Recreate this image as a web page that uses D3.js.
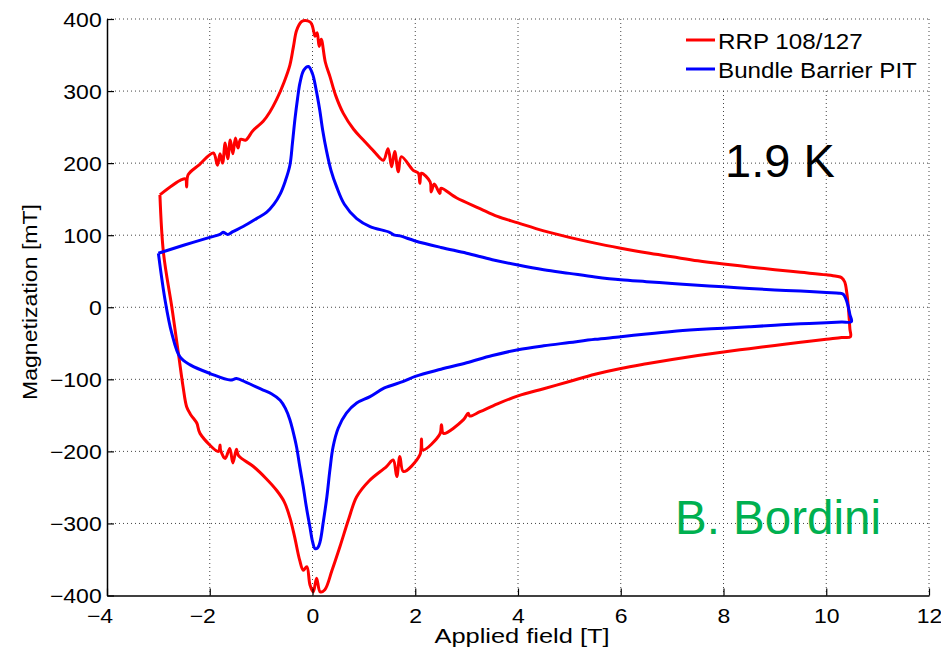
<!DOCTYPE html>
<html lang="en">
<head>
<meta charset="UTF-8">
<title>Magnetization loops 1.9 K</title>
<script src="https://d3js.org/d3.v7.min.js"></script>
<style>
  body { margin: 0; background: #fff; }
  text { font-family: "Liberation Sans", Arial, sans-serif; fill: #000; }
</style>
</head>
<body>
<div id="chart"></div>
<script>
// ticks
const fieldTicks = [-4, -2, 0, 2, 4, 6, 8, 10, 12];
const magTicks = [-400, -300, -200, -100, 0, 100, 200, 300, 400];

// RRP 108/127 loop, [field T, magnetization mT]
const rrpLoop = [
  [-2.97, 156], [-2.55, 177], [-2.47, 178], [-2.45, 167], [-2.42, 184], [-2.2, 198],
  [-1.93, 214], [-1.85, 197], [-1.80, 213], [-1.75, 200], [-1.70, 228], [-1.65, 206],
  [-1.60, 232], [-1.55, 213], [-1.50, 235], [-1.45, 221], [-1.40, 233], [-1.30, 232],
  [-1.16, 245], [-0.96, 258], [-0.83, 271], [-0.70, 288], [-0.55, 313], [-0.44, 336],
  [-0.37, 362], [-0.31, 384], [-0.22, 396], [-0.15, 398], [-0.05, 396], [-0.01, 392],
  [0.02, 384], [0.05, 376], [0.09, 381], [0.13, 362], [0.17, 372], [0.25, 340],
  [0.34, 320], [0.45, 294], [0.6, 269], [0.8, 247], [0.99, 232], [1.2, 216],
  [1.38, 204], [1.47, 220], [1.54, 195], [1.60, 216], [1.67, 188], [1.73, 209],
  [1.96, 190], [2.06, 186], [2.09, 172], [2.12, 186], [2.29, 174], [2.31, 160],
  [2.37, 171], [2.48, 158], [2.50, 165], [2.8, 152], [3.26, 137], [3.6, 126],
  [4.0, 117], [4.5, 106], [5.0, 97], [5.5, 89], [6.0, 82], [6.5, 75.5], [7.0, 70],
  [7.5, 64.5], [8.0, 60], [8.5, 56], [9.0, 52], [9.5, 48.5], [10.0, 45], [10.2, 43],
  [10.3, 41], [10.36, 35], [10.40, 20], [10.43, 0], [10.46, -30], [10.47, -41],
  [10.3, -42], [10.0, -44.5], [9.5, -48.5], [9.0, -53], [8.5, -57.5], [8.0, -62],
  [7.5, -67], [7.0, -72.5], [6.5, -78.5], [6.0, -85], [5.5, -93], [5.0, -103],
  [4.5, -113], [4.0, -123], [3.6, -134], [3.26, -145], [3.06, -151], [3.03, -147],
  [2.94, -156], [2.55, -175], [2.51, -163], [2.48, -176], [2.15, -198], [2.12, -183],
  [2.09, -205], [1.77, -228], [1.70, -207], [1.64, -235], [1.57, -212], [1.44, -221],
  [1.1, -241], [0.86, -263], [0.7, -295], [0.535, -332], [0.38, -365], [0.24, -392],
  [0.15, -395], [0.08, -376], [0.015, -395], [-0.05, -385], [-0.11, -360], [-0.18, -365],
  [-0.25, -351], [-0.35, -318], [-0.44, -292], [-0.55, -270], [-0.70, -254], [-0.90, -238],
  [-1.15, -221], [-1.44, -206], [-1.48, -197], [-1.55, -216], [-1.61, -196], [-1.70, -210],
  [-1.79, -198], [-1.80, -191], [-1.83, -200], [-2.19, -175], [-2.25, -161], [-2.32, -154],
  [-2.38, -148], [-2.45, -138], [-2.52, -110], [-2.61, -64], [-2.74, 1], [-2.90, 75],
  [-2.97, 156]
];

// Bundle Barrier PIT loop
const pitLoop = [
  [-3.0, 75], [-2.51, 86], [-2.0, 97], [-1.80, 101], [-1.74, 104], [-1.65, 101], [-1.55, 105],
  [-1.35, 112], [-1.09, 123], [-0.89, 132], [-0.75, 143], [-0.63, 157], [-0.53, 175],
  [-0.44, 197], [-0.39, 228], [-0.34, 262], [-0.29, 290], [-0.245, 311], [-0.17, 329],
  [-0.08, 334], [0.0, 324], [0.07, 302], [0.14, 274], [0.20, 245], [0.27, 218],
  [0.36, 190], [0.47, 167], [0.62, 143], [0.86, 123], [1.12, 112], [1.5, 104],
  [1.6, 100], [1.7, 99], [2.0, 92], [2.5, 83], [3.0, 75], [3.5, 66], [4.0, 58.5],
  [4.5, 52], [5.0, 47], [5.5, 42], [6.0, 38], [6.5, 35.5], [7.0, 33], [7.5, 30.5],
  [8.0, 28.5], [8.5, 26], [9.0, 24], [9.5, 22.5], [10.0, 20.5], [10.25, 19.5],
  [10.33, 18], [10.38, 12], [10.42, 3], [10.46, -10], [10.49, -20],
  [10.3, -20.5], [10.0, -21.5], [9.5, -23], [9.0, -25], [8.5, -27], [8.0, -29],
  [7.5, -31], [7.0, -33.5], [6.5, -37], [6.0, -41], [5.5, -44.5], [5.0, -49],
  [4.5, -53.5], [4.0, -59], [3.5, -67], [3.0, -77], [2.5, -86], [2.0, -96],
  [1.77, -103], [1.4, -112], [1.12, -124], [0.86, -133], [0.66, -147], [0.50, -168],
  [0.40, -194], [0.34, -225], [0.28, -263], [0.21, -298], [0.146, -326], [0.10, -334],
  [0.05, -335], [0.0, -325], [-0.05, -305], [-0.12, -277], [-0.18, -249], [-0.25, -220],
  [-0.31, -194], [-0.38, -172], [-0.44, -156], [-0.53, -140], [-0.63, -129], [-0.80, -120],
  [-0.96, -115], [-1.30, -104], [-1.48, -99], [-1.60, -101], [-1.99, -92], [-2.38, -80],
  [-2.58, -69], [-2.74, -36], [-2.87, 10], [-3.0, 75]
];

const seriesNames = ["RRP 108/127", "Bundle Barrier PIT"];
const seriesColors = ["#ff0000", "#0000ff"];

const W = 941, H = 649;
const plotLeft = 107, plotRight = 929, plotTop = 19, plotBottom = 595.5;

const svg = d3.select("#chart").append("svg")
    .attr("width", W)
    .attr("height", H);

const x = d3.scaleLinear().domain([-4, 12]).range([plotLeft, plotRight]);
const y = d3.scaleLinear().domain([-400, 400]).range([plotBottom, plotTop]);

// dotted grid
const grid = svg.append("g")
    .attr("stroke", "#444")
    .attr("stroke-width", 1)
    .attr("stroke-dasharray", "1,3");
grid.selectAll("line.gx").data(fieldTicks.slice(1)).join("line")
    .attr("class", "gx")
    .attr("x1", d => x(d)).attr("x2", d => x(d))
    .attr("y1", plotTop).attr("y2", plotBottom);
grid.selectAll("line.gy").data(magTicks.slice(1)).join("line")
    .attr("class", "gy")
    .attr("x1", plotLeft).attr("x2", plotRight)
    .attr("y1", d => y(d)).attr("y2", d => y(d));

// curves
const line = d3.line()
    .x(d => x(d[0]))
    .y(d => y(d[1]))
    .curve(d3.curveCatmullRom.alpha(0.5));
[rrpLoop, pitLoop].forEach((data, i) => {
    svg.append("path")
        .datum(data)
        .attr("d", line)
        .attr("fill", "none")
        .attr("stroke", seriesColors[i])
        .attr("stroke-width", 3)
        .attr("stroke-linejoin", "round");
});

// axes
const xAxis = svg.append("g")
    .attr("transform", `translate(0,${plotBottom})`)
    .call(d3.axisBottom(x).tickValues(fieldTicks).tickSize(-7).tickSizeOuter(0));
const yAxis = svg.append("g")
    .attr("transform", `translate(${plotLeft},0)`)
    .call(d3.axisLeft(y).tickValues(magTicks).tickSize(-7).tickSizeOuter(0));

[xAxis, yAxis].forEach(a => {
    a.select(".domain").attr("stroke", "#000").attr("stroke-width", 1.5);
    a.selectAll(".tick line").attr("stroke", "#000").attr("stroke-width", 1.2);
    a.selectAll(".tick text").attr("font-size", 20).attr("fill", "#000")
        .attr("font-family", '"Liberation Sans", Arial, sans-serif');
});

xAxis.selectAll(".tick text")
    .attr("x", null).attr("y", null).attr("dy", null)
    .attr("text-anchor", "middle")
    .attr("transform", d => `translate(${d < 0 ? -7.5 : 0},27.5) scale(1.15,1)`);
yAxis.selectAll(".tick text")
    .attr("x", null).attr("y", null).attr("dy", null)
    .attr("text-anchor", "end")
    .attr("transform", `translate(-5.3,7.2) scale(1.15,1)`);

// axis labels
svg.append("text")
    .attr("transform", "translate(522,643) scale(1.27,1)")
    .attr("text-anchor", "middle")
    .attr("font-size", 20)
    .text("Applied field [T]");
svg.append("text")
    .attr("transform", "translate(37,302) rotate(-90) scale(1.125,1)")
    .attr("text-anchor", "middle")
    .attr("font-size", 20.5)
    .text("Magnetization [mT]");

// legend
const legend = svg.append("g");
legend.append("rect")
    .attr("x", 660).attr("y", 21)
    .attr("width", 266).attr("height", 68)
    .attr("fill", "#fff");
seriesNames.forEach((name, i) => {
    const ly = 40 + i * 29;
    legend.append("line")
        .attr("x1", 686).attr("x2", 715)
        .attr("y1", ly).attr("y2", ly)
        .attr("stroke", seriesColors[i])
        .attr("stroke-width", 3);
    legend.append("text")
        .attr("transform", `translate(718,${ly + 9}) scale(1.125,1)`)
        .attr("font-size", 21.5)
        .text(name);
});

// annotations
svg.append("text")
    .attr("x", 725).attr("y", 177)
    .attr("font-size", 47)
    .text("1.9 K");
svg.append("text")
    .attr("x", 675).attr("y", 534)
    .attr("font-size", 47.5)
    .style("fill", "#00b050")
    .text("B. Bordini");
</script>
</body>
</html>
